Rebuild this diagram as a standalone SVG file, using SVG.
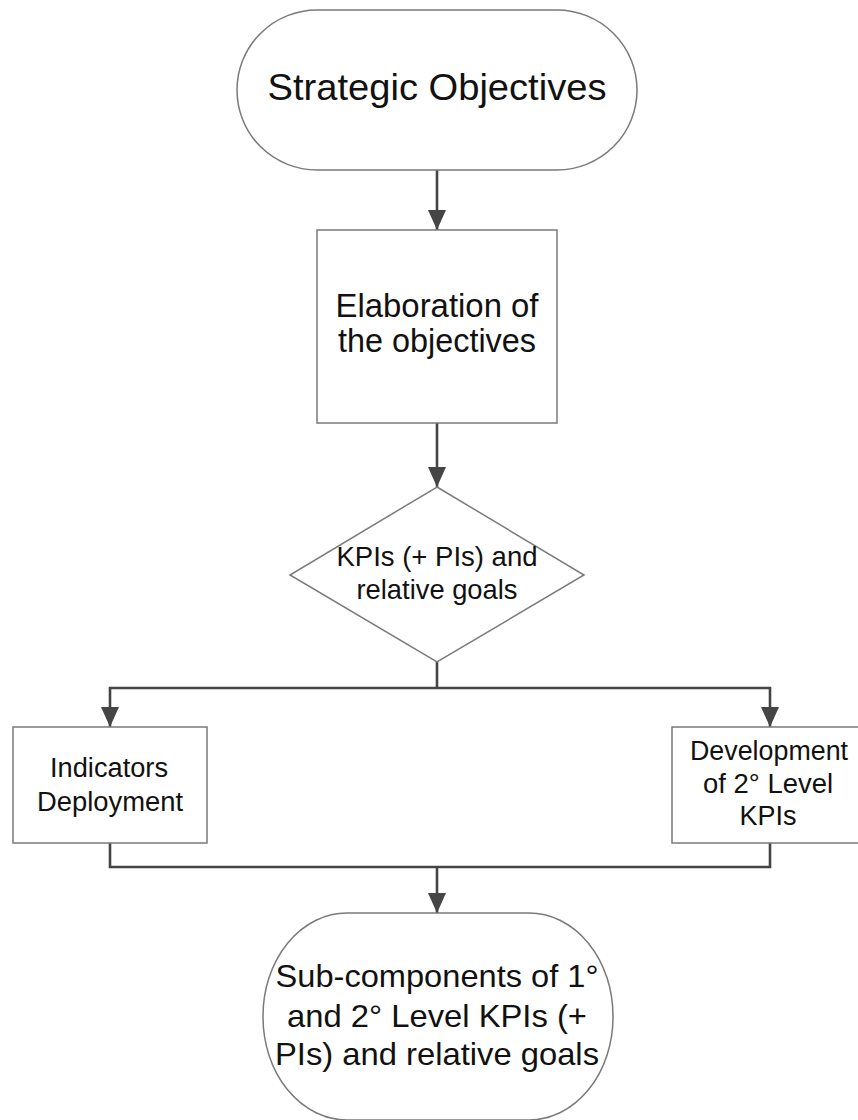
<svg xmlns="http://www.w3.org/2000/svg" width="858" height="1120" viewBox="0 0 858 1120">
  <style>
    .shape { fill: #ffffff; stroke: #7a7a7a; stroke-width: 1.5; }
    .wire { fill: none; stroke: #454545; stroke-width: 2.6; }
    .label { font-family: "Liberation Sans", Arial, sans-serif; fill: #111111; text-anchor: middle; }
  </style>
  <defs>
    <marker id="arrow" viewBox="0 0 20 18" refX="20" refY="9" markerWidth="20" markerHeight="18" markerUnits="userSpaceOnUse" orient="auto">
      <path d="M0,0 L20,9 L0,18 z" fill="#454545"/>
    </marker>
  </defs>
  <rect width="858" height="1120" fill="#ffffff"/>

  <!-- connectors -->
  <g id="connectors">
    <path class="wire" d="M437,170 V230" marker-end="url(#arrow)"/>
    <path class="wire" d="M437,423 V487" marker-end="url(#arrow)"/>
    <path class="wire" d="M437,662 V688"/>
    <path class="wire" d="M437,688 H110 V727" marker-end="url(#arrow)"/>
    <path class="wire" d="M437,688 H770 V727" marker-end="url(#arrow)"/>
    <path class="wire" d="M110,843 V867 H770 V843"/>
    <path class="wire" d="M437,867 V913" marker-end="url(#arrow)"/>
  </g>

  <!-- start terminator -->
  <g id="strategic-objectives">
    <rect class="shape" x="237" y="10" width="400" height="160" rx="80" ry="80"/>
    <text class="label" x="437" y="100" font-size="37" textLength="339" lengthAdjust="spacingAndGlyphs">Strategic Objectives</text>
  </g>

  <!-- process -->
  <g id="elaboration">
    <rect class="shape" x="317" y="230" width="240" height="193"/>
    <text class="label" x="437" y="317" font-size="33" textLength="203" lengthAdjust="spacingAndGlyphs">Elaboration of</text>
    <text class="label" x="437" y="352" font-size="33" textLength="198" lengthAdjust="spacingAndGlyphs">the objectives</text>
  </g>

  <!-- decision -->
  <g id="kpis">
    <polygon class="shape" points="437,487 584,575 437,662 290,575"/>
    <text class="label" x="437" y="566" font-size="27.5" textLength="201" lengthAdjust="spacingAndGlyphs">KPIs (+ PIs) and</text>
    <text class="label" x="437" y="599" font-size="27.5" textLength="161" lengthAdjust="spacingAndGlyphs">relative goals</text>
  </g>

  <!-- left branch -->
  <g id="indicators-deployment">
    <rect class="shape" x="13" y="727" width="194" height="116"/>
    <text class="label" x="109" y="777" font-size="27" textLength="118" lengthAdjust="spacingAndGlyphs">Indicators</text>
    <text class="label" x="110" y="811" font-size="27" textLength="146" lengthAdjust="spacingAndGlyphs">Deployment</text>
  </g>

  <!-- right branch -->
  <g id="second-level-kpis">
    <rect class="shape" x="672" y="727" width="200" height="116"/>
    <text class="label" x="769" y="760" font-size="27" textLength="158" lengthAdjust="spacingAndGlyphs">Development</text>
    <text class="label" x="768" y="793" font-size="27" textLength="130" lengthAdjust="spacingAndGlyphs">of 2° Level</text>
    <text class="label" x="768" y="825" font-size="27" textLength="57" lengthAdjust="spacingAndGlyphs">KPIs</text>
  </g>

  <!-- end terminator -->
  <g id="sub-components">
    <rect class="shape" x="263" y="913" width="350" height="207" rx="84" ry="103"/>
    <text class="label" x="437" y="987" font-size="32" textLength="323" lengthAdjust="spacingAndGlyphs">Sub-components of 1°</text>
    <text class="label" x="437" y="1027" font-size="32" textLength="300" lengthAdjust="spacingAndGlyphs">and 2° Level KPIs (+</text>
    <text class="label" x="437" y="1065" font-size="32" textLength="324" lengthAdjust="spacingAndGlyphs">PIs) and relative goals</text>
  </g>
</svg>
